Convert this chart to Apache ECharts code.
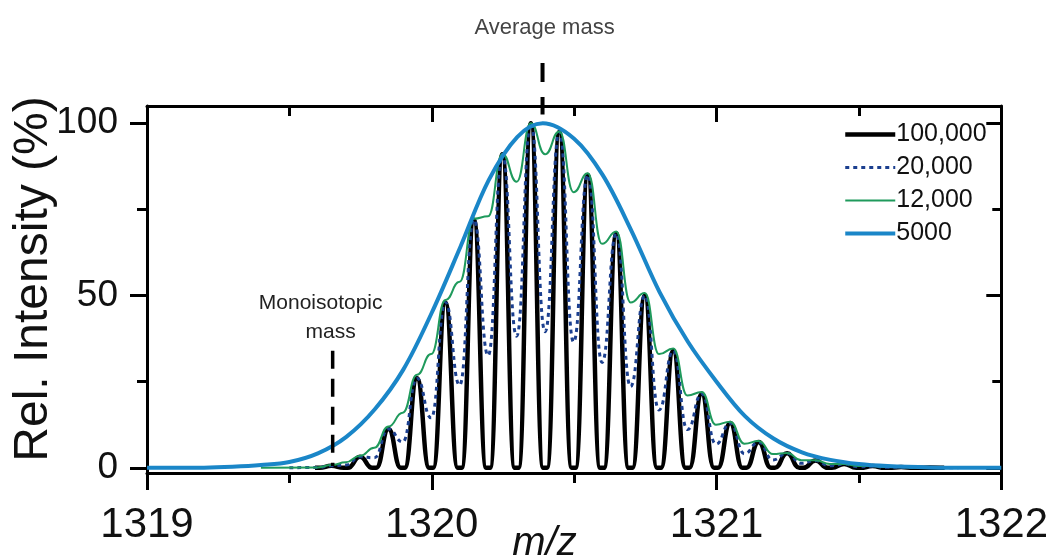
<!DOCTYPE html>
<html><head><meta charset="utf-8">
<script src="https://cdn.jsdelivr.net/npm/echarts@6/dist/echarts.min.js"></script>
<style>html,body{margin:0;padding:0;background:#fff}#c{width:1051px;height:555px}</style>
</head><body><div id="c"></div>
<script>
// ---------- data ----------
const seriesNames = ['100,000', '20,000', '12,000', '5000'];
const xTickValues = [1319, 1320, 1321, 1322];
const yTickValues = [0, 50, 100];
const yMinorTickValues = [25, 75];

// isotope peak centres (m/z)
const peakMz = [1319.648, 1319.748, 1319.848, 1319.948, 1320.048, 1320.148, 1320.248, 1320.348,
  1320.448, 1320.548, 1320.648, 1320.748, 1320.848, 1320.948, 1321.048, 1321.148, 1321.248,
  1321.348, 1321.448, 1321.548, 1321.648, 1321.748];
// R = 100,000 peak heights
const blackHeights = [0.6, 3.2, 11.3, 26, 48, 72, 91, 100, 97.5, 85, 68, 50, 34, 21.5, 13, 7.5, 4.2, 2.1, 1.1, 0.5, 0.25, 0.1];
const blackStartEnd = [1319.59, 1321.72];
// R = 20,000 : values at the peaks and at the valleys between them
const dottedPeaks = [0.6, 3.2, 11.3, 26, 48, 72, 91, 100, 97.5, 85, 68, 50, 34, 21.5, 13, 7.5, 4.2, 2.1, 1.1, 0.5, 0.25, 0.1];
const dottedValleys = [0.8, 2.9, 7.5, 14.5, 24, 32.6, 38.2, 39.5, 36.5, 30.6, 23.6, 16.8, 11.1, 6.9, 4.1, 2.3, 1.3, 0.6, 0.3, 0.15, 0.07];
const dottedStartEnd = [1319.5, 1321.85];
// R = 12,000
const greenPeaks = [0.8, 3.5, 12, 27, 48.7, 72.3, 91.1, 100, 97.6, 85.5, 68.6, 50.7, 34.6, 22, 13.4, 7.8, 4.3, 2.2, 1.1, 0.55, 0.27, 0.12];
const greenValleys = [1.6, 5.8, 16, 33, 54, 73, 83, 91, 80, 65, 48, 33, 21, 12.5, 7, 4, 2.2, 1.1, 0.55, 0.25, 0.1];
const greenStartEnd = [1319.4, 1321.95];
// R = 5000 envelope
const blueMz = [1319.0, 1319.2, 1319.3, 1319.4, 1319.5, 1319.6, 1319.7, 1319.8, 1319.9, 1320.0, 1320.1,
  1320.2, 1320.3, 1320.39, 1320.5, 1320.6, 1320.7, 1320.8, 1320.9, 1321.0, 1321.1, 1321.2, 1321.3,
  1321.4, 1321.5, 1321.6, 1321.75, 1321.9, 1322.0];
const blueValues = [0, 0.05, 0.3, 0.8, 1.7, 4.2, 9, 17, 28.5, 45, 64, 83.5, 96, 100, 95.5, 85, 69, 51, 36.5, 25,
  15, 8.5, 4.5, 2.3, 1.1, 0.5, 0.1, 0, 0];

// annotation markers
const averageMass = 1320.389;
const averageMarkRange = [117.5, 102.5];
const monoMass = 1319.652;
const monoMarkRange = [34, 0.5];

// ---------- build series data ----------
const FONT = '"Liberation Sans", Arial, sans-serif';
const peakHalfBase = 0.043;
const valleyOffset = 0.05;

function blackData() {
  const d = [[blackStartEnd[0], 0]];
  peakMz.forEach((c, i) => {
    d.push([+(c - peakHalfBase).toFixed(4), 0], [c, blackHeights[i]], [+(c + peakHalfBase).toFixed(4), 0]);
  });
  d.push([blackStartEnd[1], 0]);
  return d;
}
function peakValleyData(peaks, valleys, startEnd) {
  const d = [[startEnd[0], 0], [+(peakMz[0] - valleyOffset).toFixed(4), 0.1]];
  peakMz.forEach((c, i) => {
    d.push([c, peaks[i]]);
    if (i < valleys.length) d.push([+(c + valleyOffset).toFixed(4), valleys[i]]);
  });
  d.push([startEnd[1], 0]);
  return d;
}
const blueData = blueMz.map((m, i) => [m, blueValues[i]]);

const axisLineStyle = { color: '#000', width: 3 };
const chart = echarts.init(document.getElementById('c'), null, { renderer: 'canvas' });

chart.setOption({
  animation: false,
  backgroundColor: '#fff',
  grid: { left: 147, right: 49, top: 106, bottom: 82, containLabel: false },
  legend: {
    data: seriesNames,
    orient: 'vertical',
    left: 838, top: 117,
    itemWidth: 50, itemHeight: 14, itemGap: 8,
    itemStyle: { opacity: 0 },
    lineStyle: { width: 'inherit' },
    textStyle: { fontSize: 25, color: '#111', fontFamily: FONT, padding: [0, 0, 0, -4] }
  },
  xAxis: [
    {
      type: 'value', min: 1319, max: 1322, interval: 1, position: 'bottom',
      axisLine: { onZero: false, lineStyle: axisLineStyle },
      axisTick: { length: 17, lineStyle: axisLineStyle },
      minorTick: { show: true, splitNumber: 2, length: 10, lineStyle: axisLineStyle },
      axisLabel: { fontSize: 42, color: '#111', margin: 31, fontFamily: FONT,
        formatter: v => xTickValues.includes(v) ? String(v) : '' },
      splitLine: { show: false }
    },
    {
      type: 'value', min: 1319, max: 1322, interval: 1, position: 'top',
      axisLine: { onZero: false, lineStyle: axisLineStyle },
      axisTick: { inside: true, length: 16, lineStyle: axisLineStyle },
      minorTick: { show: true, splitNumber: 2, length: 10, lineStyle: axisLineStyle },
      axisLabel: { show: false }, splitLine: { show: false }
    }
  ],
  yAxis: [
    {
      type: 'value', min: -1.5, max: 105, position: 'left',
      axisLine: { onZero: false, lineStyle: axisLineStyle },
      axisTick: { customValues: yTickValues, length: 17, lineStyle: axisLineStyle },
      axisLabel: { customValues: yTickValues, fontSize: 37, color: '#111', margin: 29, fontFamily: FONT },
      splitLine: { show: false }
    },
    {
      type: 'value', min: -1.5, max: 105, position: 'left',
      axisLine: { show: false },
      axisTick: { customValues: yMinorTickValues, length: 10, lineStyle: axisLineStyle },
      axisLabel: { show: false }, splitLine: { show: false }
    },
    {
      type: 'value', min: -1.5, max: 105, position: 'right',
      axisLine: { onZero: false, lineStyle: axisLineStyle },
      axisTick: { inside: true, customValues: yTickValues, length: 15, lineStyle: axisLineStyle },
      axisLabel: { show: false }, splitLine: { show: false }
    },
    {
      type: 'value', min: -1.5, max: 105, position: 'right',
      axisLine: { show: false },
      axisTick: { inside: true, customValues: yMinorTickValues, length: 9, lineStyle: axisLineStyle },
      axisLabel: { show: false }, splitLine: { show: false }
    }
  ],
  series: [
    {
      name: seriesNames[0], type: 'line', data: blackData(), showSymbol: false, symbol: 'none',
      smooth: 0.5, smoothMonotone: 'x', z: 2,
      lineStyle: { color: '#000', width: 4.5 }, itemStyle: { color: '#000' }
    },
    {
      name: seriesNames[1], type: 'line', data: peakValleyData(dottedPeaks, dottedValleys, dottedStartEnd),
      showSymbol: false, symbol: 'none', smooth: 0.5, smoothMonotone: 'x', z: 3,
      lineStyle: { color: '#1b3f8f', width: 3, type: [4, 4] }, itemStyle: { color: '#1b3f8f' }
    },
    {
      name: seriesNames[2], type: 'line', data: peakValleyData(greenPeaks, greenValleys, greenStartEnd),
      showSymbol: false, symbol: 'none', smooth: 0.5, smoothMonotone: 'x', z: 4,
      lineStyle: { color: '#1f9a5c', width: 2 }, itemStyle: { color: '#1f9a5c' }
    },
    {
      name: seriesNames[3], type: 'line', data: blueData, showSymbol: false, symbol: 'none',
      smooth: 0.35, z: 5,
      lineStyle: { color: '#1a86c8', width: 4 }, itemStyle: { color: '#1a86c8' }
    },
    {
      name: 'avgMark', type: 'line', clip: false, showSymbol: false, symbol: 'none', silent: true, z: 6,
      data: averageMarkRange.map(v => [averageMass, v]),
      lineStyle: { color: '#000', width: 4, type: [19, 15] }
    },
    {
      name: 'monoMark', type: 'line', clip: false, showSymbol: false, symbol: 'none', silent: true, z: 6,
      data: monoMarkRange.map(v => [monoMass, v]),
      lineStyle: { color: '#000', width: 3.5, type: [18, 10] }
    }
  ]
});

// text annotations placed with the chart's own scale
function placeTexts() {
  const avgPx = chart.convertToPixel({ xAxisIndex: 0, yAxisIndex: 0 }, [averageMass, 0]);
  const monoPx = chart.convertToPixel({ xAxisIndex: 0, yAxisIndex: 0 }, [monoMass, monoMarkRange[0]]);
  chart.setOption({
    graphic: [
      { type: 'text', x: avgPx[0] + 2, y: 17,
        style: { text: 'Average mass', fontSize: 22, fill: '#444', fontFamily: FONT, align: 'center' } },
      { type: 'text', x: monoPx[0] - 12, y: monoPx[1] - 58,
        style: { text: 'Monoisotopic', fontSize: 21, fill: '#222', fontFamily: FONT, align: 'center' } },
      { type: 'text', x: monoPx[0] - 2, y: monoPx[1] - 29,
        style: { text: 'mass', fontSize: 21, fill: '#222', fontFamily: FONT, align: 'center' } },
      { type: 'text', x: avgPx[0] + 2, y: 524,
        style: { text: 'm/z', fontSize: 40, fontStyle: 'italic', fill: '#111', fontFamily: FONT, align: 'center' } },
      { type: 'text', x: 34, y: 279, rotation: Math.PI / 2,
        style: { text: 'Rel. Intensity (%)', fontSize: 48, fill: '#111', fontFamily: FONT,
          align: 'center', verticalAlign: 'middle' } }
    ]
  });
}
placeTexts();
</script>
</body></html>
